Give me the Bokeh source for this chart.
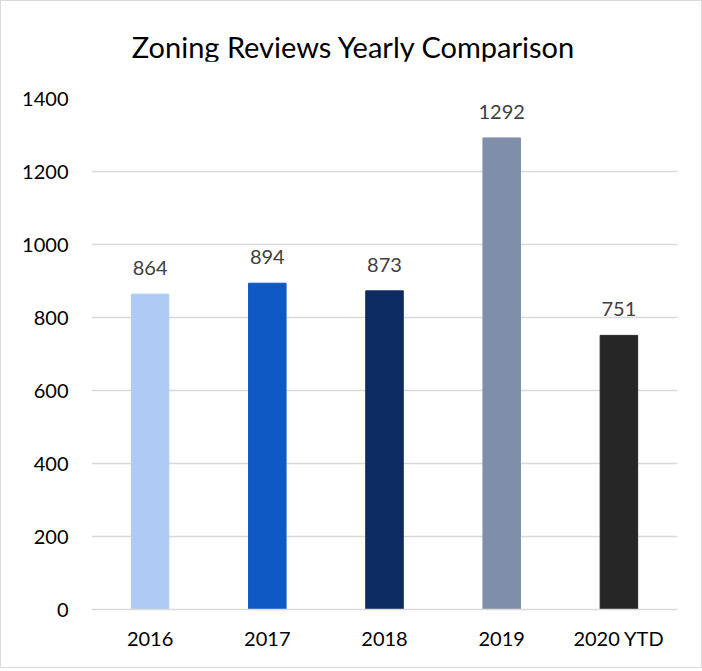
from bokeh.plotting import figure
from bokeh.models import ColumnDataSource, FixedTicker, Div
from bokeh.layouts import column
from bokeh.embed import file_html
from bokeh.resources import INLINE
from bokeh.core.properties import value

categories = ["2016", "2017", "2018", "2019", "2020 YTD"]
reviews = [864, 894, 873, 1292, 751]
colors = ["#AECBF6", "#0F59C4", "#0B2B61", "#7F8FAA", "#262626"]
y_ticks = [0, 200, 400, 600, 800, 1000, 1200, 1400]
title_text = "Zoning Reviews Yearly Comparison"

src = ColumnDataSource(dict(cat=categories, val=reviews, color=colors,
                            lab=[str(v) for v in reviews]))

header = Div(text='<div style="position:absolute;left:2px;top:26px;width:700px;'
                  'text-align:center;line-height:40px;white-space:nowrap;">'
                  + title_text + '</div>',
             width=700, height=60,
             styles={"font-family": "Lato", "font-size": "29px", "color": "#000000",
                     "position": "relative", "margin": "0", "padding": "0"})

p = figure(x_range=categories, y_range=(0, 1400), width=700, height=606,
           output_backend="svg", toolbar_location=None,
           min_border_left=90, min_border_right=24, min_border_top=37, min_border_bottom=58)

p.vbar(x="cat", top="val", width=0.32, color="color", source=src)
p.text(x="cat", y="val", text="lab", source=src, text_align="center",
       text_baseline="bottom", y_offset=-19, text_font=value("Lato"),
       text_font_size="20px", text_color="#404040")

p.outline_line_color = None
p.xgrid.grid_line_color = None
p.ygrid.grid_line_color = "#d9d9d9"
p.ygrid.grid_line_width = 1.3

p.yaxis.ticker = FixedTicker(ticks=y_ticks)
p.yaxis.axis_line_color = None
p.yaxis.major_tick_line_color = None
p.yaxis.minor_tick_line_color = None
p.yaxis.major_label_standoff = 17
p.yaxis.major_label_text_font = "Lato"
p.yaxis.major_label_text_font_size = "20px"
p.yaxis.major_label_text_color = "#000000"

p.xaxis.axis_line_color = "#d9d9d9"
p.xaxis.axis_line_width = 1.3
p.xaxis.major_tick_line_color = None
p.xaxis.minor_tick_line_color = None
p.xaxis.major_label_standoff = 10
p.xaxis.major_label_text_font = "Lato"
p.xaxis.major_label_text_font_size = "20px"
p.xaxis.major_label_text_color = "#000000"

layout = column(header, p, styles={"border": "1px solid #d9d9d9"})

open("out.html", "w").write(file_html(layout, INLINE))
